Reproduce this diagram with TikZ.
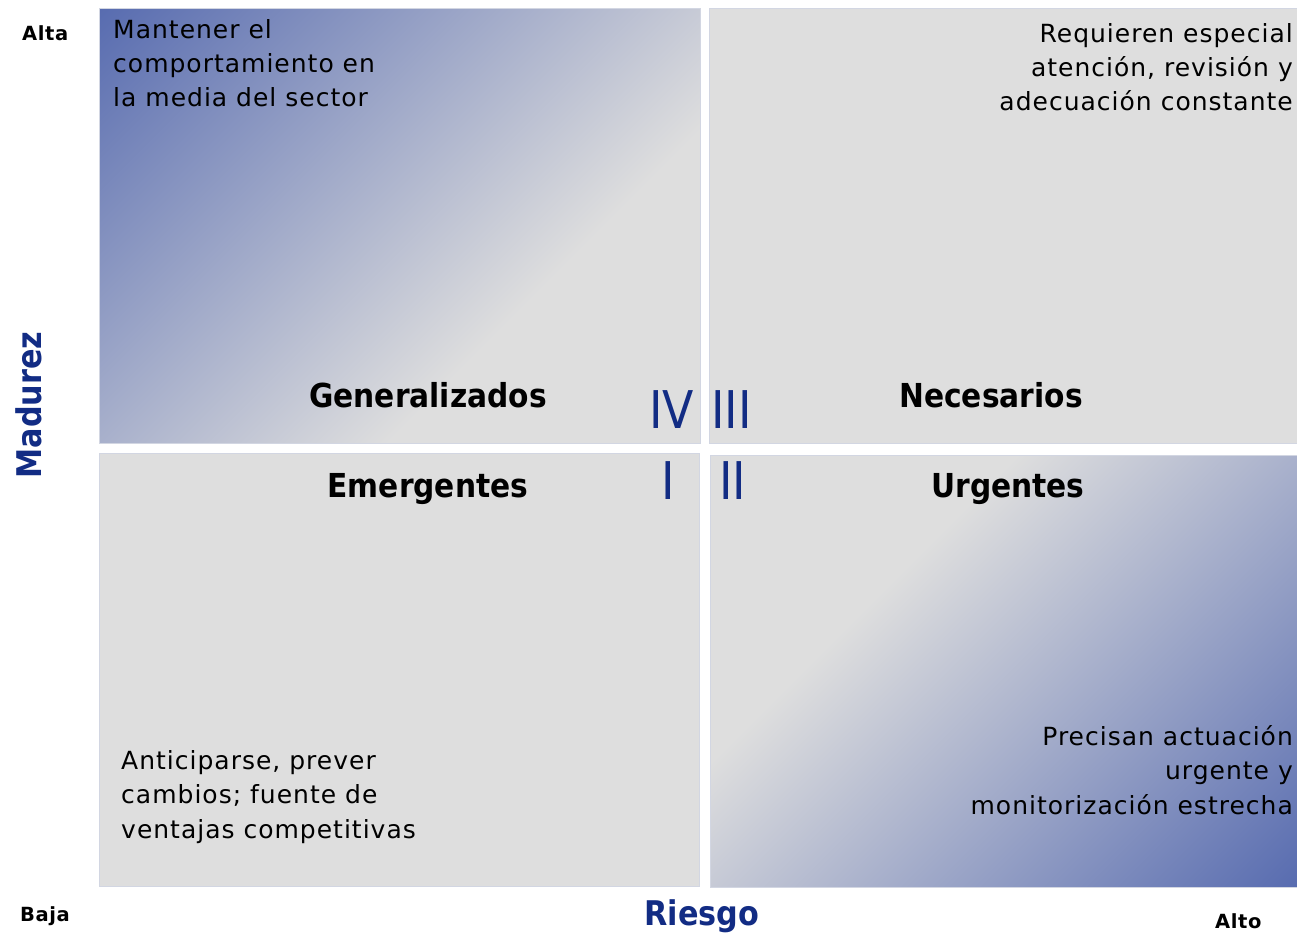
\documentclass[tikz,border=0pt]{standalone}
\usepackage{fontspec}
\setmainfont{DejaVu Sans}
\newfontfamily\bodyfont[LetterSpace=4]{DejaVu Sans}
\newfontfamily\headfont[FakeStretch=0.9]{DejaVu Sans}
\newfontfamily\titlefont[FakeStretch=0.89]{DejaVu Sans}
\newfontfamily\numfont[FakeStretch=0.88]{DejaVu Sans}
\newfontfamily\axisfont[LetterSpace=3]{DejaVu Sans}
\definecolor{qgray}{RGB}{222,222,222}
\definecolor{qblue}{RGB}{88,108,176}
\definecolor{qnavy}{RGB}{18,44,132}
\definecolor{qedge}{RGB}{210,214,226}
\pgfdeclareverticalshading{qdiag}{100bp}{%
  color(0bp)=(qgray); color(40bp)=(qgray);
  color(75bp)=(qblue); color(100bp)=(qblue)}
\begin{document}
\begin{tikzpicture}[x=1pt,y=-1pt,
  bodytext/.style={inner sep=0pt,font=\bodyfont\fontsize{25}{34}\selectfont,text=black},
  headtext/.style={inner sep=0pt,font=\headfont\bfseries\fontsize{33}{40}\selectfont,text=black,anchor=base},
  numtext/.style={inner sep=0pt,font=\numfont\fontsize{52}{60}\selectfont,text=qnavy},
  axistext/.style={inner sep=0pt,font=\axisfont\bfseries\fontsize{19.5}{24}\selectfont,text=black},
  titletext/.style={inner sep=0pt,font=\titlefont\bfseries\fontsize{34}{40}\selectfont,text=qnavy},
  boxedge/.style={draw=qedge,line width=0.8pt}]
\useasboundingbox (0,0) rectangle (1297,932);
\fill[white] (0,0) rectangle (1297,932);

% quadrant IV (top left), gradient
\begin{scope}
  \clip (99,8) rectangle (700,443);
  \shade[shading=qdiag,shading angle=45] (33.2,-140.8) rectangle (765.8,591.8);
\end{scope}
\draw[boxedge] (99,8) rectangle (700,443);
% quadrant III (top right)
\fill[qgray] (709,8) rectangle (1297,443);
\draw[boxedge] (709,8) rectangle (1297,443);
% quadrant I (bottom left)
\fill[qgray] (99,453) rectangle (699,886);
\draw[boxedge] (99,453) rectangle (699,886);
% quadrant II (bottom right), gradient
\begin{scope}
  \clip (710,455) rectangle (1297,887);
  \shade[shading=qdiag,shading angle=225] (643.2,310.7) rectangle (1363.8,1031.3);
\end{scope}
\draw[boxedge] (710,455) rectangle (1297,887);

% texts top left
\node[bodytext,anchor=base west] (tl1) at (113,38) {Mantener el};
\node[bodytext,anchor=base west] (tl2) at (113,72) {comportamiento en};
\node[bodytext,anchor=base west] (tl3) at (113,106) {la media del sector};
% texts top right
\node[bodytext,anchor=base east] (tr1) at (1293,42) {Requieren especial};
\node[bodytext,anchor=base east] (tr2) at (1293,76) {atención, revisión y};
\node[bodytext,anchor=base east] (tr3) at (1293,110) {adecuación constante};
% texts bottom left
\node[bodytext,anchor=base west] (bl1) at (121,769) {Anticiparse, prever};
\node[bodytext,anchor=base west] (bl2) at (121,803) {cambios; fuente de};
\node[bodytext,anchor=base west] (bl3) at (121,838) {ventajas competitivas};
% texts bottom right
\node[bodytext,anchor=base east] (br1) at (1293,745) {Precisan actuación};
\node[bodytext,anchor=base east] (br2) at (1293,779) {urgente y};
\node[bodytext,anchor=base east] (br3) at (1293,814) {monitorización estrecha};

% headings
\node[headtext] (gen) at (428,407) {Generalizados};
\node[headtext] (nec) at (991,407) {Necesarios};
\node[headtext] (eme) at (428,497) {Emergentes};
\node[headtext] (urg) at (1008,497) {Urgentes};

% roman numerals
\node[numtext,anchor=base east] (n4) at (694,428) {IV};
\node[numtext,anchor=base west] (n3) at (711,428) {III};
\node[numtext,anchor=base] (n1) at (668,499) {I};
\node[numtext,anchor=base west] (n2) at (719,499) {II};

% axis labels
\node[axistext,anchor=base west] (alta) at (22,40) {Alta};
\node[axistext,anchor=base west] (baja) at (20,921) {Baja};
\node[axistext,anchor=base west] (alto) at (1215,928) {Alto};
\node[titletext,anchor=base] (riesgo) at (702,925) {Riesgo};
\node[titletext,anchor=base,rotate=90] (madurez) at (41,405) {Madurez};
\end{tikzpicture}
\end{document}
